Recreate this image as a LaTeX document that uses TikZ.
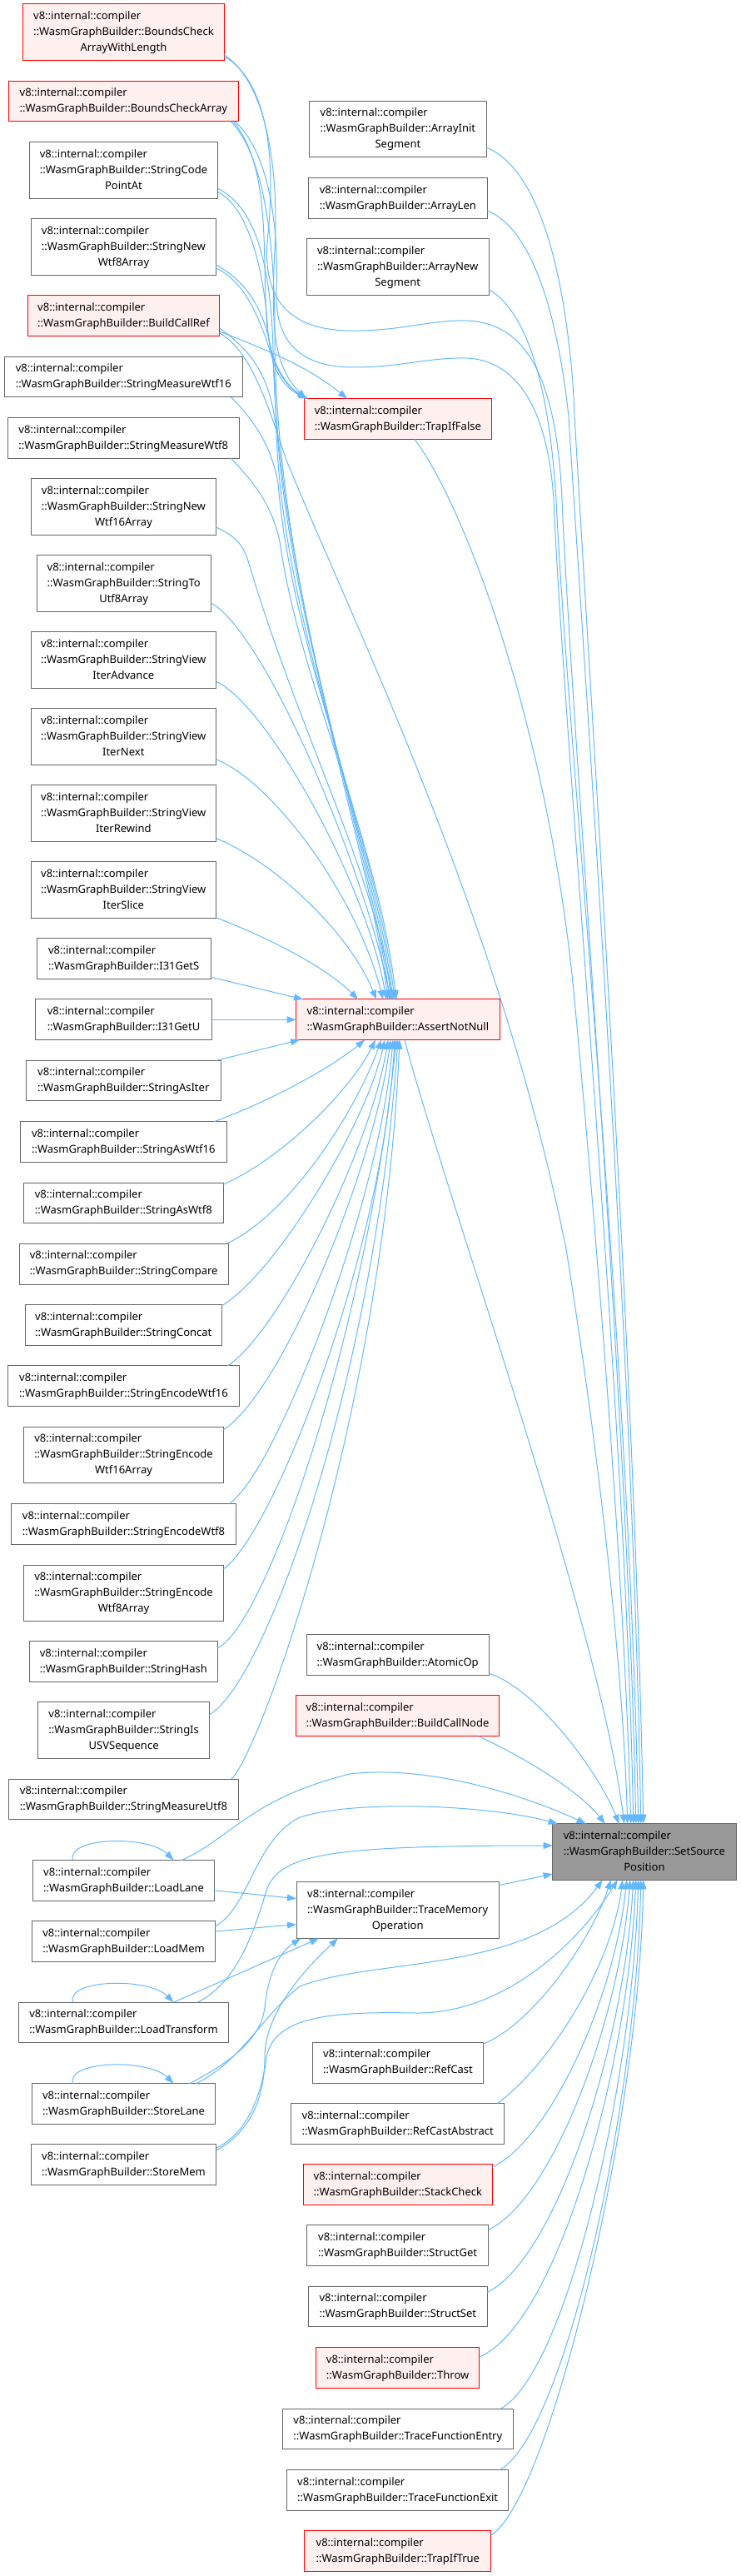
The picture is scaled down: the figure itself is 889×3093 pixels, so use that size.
\documentclass[tikz,border=0pt]{standalone}
\usepackage{fontspec}
\setmainfont{Noto Sans}
\usetikzlibrary{arrows.meta,calc}
\definecolor{edgec}{HTML}{63B8FF}
\definecolor{nodeb}{HTML}{666666}
\definecolor{redb}{HTML}{FF0000}
\definecolor{redf}{HTML}{FFF0F0}
\definecolor{rootf}{HTML}{999999}
\newcommand{\twol}[1]{\begin{tabular}{@{}l@{}}v8::internal::compiler\\#1\end{tabular}}
\newcommand{\thrl}[2]{\begin{tabular}{@{}l@{}}v8::internal::compiler\\#1\\\multicolumn{1}{@{}c@{}}{#2}\end{tabular}}
\tikzset{
  box/.style={draw=nodeb, fill=white, line width=1pt, inner sep=0pt, outer sep=0pt,
    anchor=north west, font=\fontsize{13}{19}\selectfont, minimum height=48.7pt},
  tall/.style={minimum height=67.6pt},
  rbox/.style={box, draw=redb, fill=redf},
  rootbox/.style={box, fill=rootf},
  cg/.style={draw=edgec, line width=1pt, -{Triangle[length=11pt,width=8pt]}}
}
\begin{document}
\begin{tikzpicture}[x=1pt,y=-1pt]
\useasboundingbox (0,0) rectangle (889,3093);
% ---------- left column ----------
\node[rbox,tall,minimum width=241.9pt] (bcawl) at (27.5,5) {\thrl{::WasmGraphBuilder::BoundsCheck}{ArrayWithLength}};
\node[rbox,minimum width=276pt] (bca) at (10.3,97.3) {\twol{::WasmGraphBuilder::BoundsCheckArray}};
\node[box,tall,minimum width=226.6pt] (scpa) at (35.2,170.7) {\thrl{::WasmGraphBuilder::StringCode}{PointAt}};
\node[box,tall,minimum width=221.1pt] (snw8a) at (37.9,262.9) {\thrl{::WasmGraphBuilder::StringNew}{Wtf8Array}};
\node[rbox,minimum width=230.4pt] (bcref) at (33.3,354.6) {\twol{::WasmGraphBuilder::BuildCallRef}};
\node[box,minimum width=286.6pt] (smw16) at (5,428.2) {\twol{::WasmGraphBuilder::StringMeasureWtf16}};
\node[box,minimum width=278.2pt] (smw8) at (9.2,501.4) {\twol{::WasmGraphBuilder::StringMeasureWtf8}};
\node[box,tall,minimum width=221.1pt] (snw16a) at (37.9,574.9) {\thrl{::WasmGraphBuilder::StringNew}{Wtf16Array}};
\node[box,tall,minimum width=208.6pt] (stu8a) at (44.4,666.8) {\thrl{::WasmGraphBuilder::StringTo}{Utf8Array}};
\node[box,tall,minimum width=222.4pt] (sviadv) at (37.1,758.6) {\thrl{::WasmGraphBuilder::StringView}{IterAdvance}};
\node[box,tall,minimum width=222.4pt] (svinext) at (37.1,850.9) {\thrl{::WasmGraphBuilder::StringView}{IterNext}};
\node[box,tall,minimum width=222.4pt] (svirew) at (37.1,942.7) {\thrl{::WasmGraphBuilder::StringView}{IterRewind}};
\node[box,tall,minimum width=222.4pt] (svislice) at (37.1,1034.9) {\thrl{::WasmGraphBuilder::StringView}{IterSlice}};
\node[box,minimum width=208.6pt] (i31s) at (44.4,1126.8) {\twol{::WasmGraphBuilder::I31GetS}};
\node[box,minimum width=212pt] (i31u) at (42.5,1199.9) {\twol{::WasmGraphBuilder::I31GetU}};
\node[box,minimum width=233.8pt] (sasiter) at (31.4,1273.2) {\twol{::WasmGraphBuilder::StringAsIter}};
\node[box,minimum width=247.6pt] (saw16) at (24.5,1346.7) {\twol{::WasmGraphBuilder::StringAsWtf16}};
\node[box,minimum width=240pt] (saw8) at (28.3,1420.2) {\twol{::WasmGraphBuilder::StringAsWtf8}};
\node[box,minimum width=250.7pt] (scmp) at (23.3,1493.3) {\twol{::WasmGraphBuilder::StringCompare}};
\node[box,minimum width=236.2pt] (sconcat) at (30.2,1566.8) {\twol{::WasmGraphBuilder::StringConcat}};
\node[box,minimum width=277.8pt] (sew16) at (9.6,1639.9) {\twol{::WasmGraphBuilder::StringEncodeWtf16}};
\node[box,tall,minimum width=239.6pt] (sew16a) at (28.7,1713) {\thrl{::WasmGraphBuilder::StringEncode}{Wtf16Array}};
\node[box,minimum width=269.4pt] (sew8) at (13.8,1805.5) {\twol{::WasmGraphBuilder::StringEncodeWtf8}};
\node[box,tall,minimum width=239.6pt] (sew8a) at (28.7,1879) {\thrl{::WasmGraphBuilder::StringEncode}{Wtf8Array}};
\node[box,minimum width=226.2pt] (shash) at (35.2,1970.8) {\twol{::WasmGraphBuilder::StringHash}};
\node[box,tall,minimum width=205.5pt] (susv) at (45.9,2043.9) {\thrl{::WasmGraphBuilder::StringIs}{USVSequence}};
\node[box,minimum width=276.3pt] (smu8) at (10.3,2136.2) {\twol{::WasmGraphBuilder::StringMeasureUtf8}};
\node[box,minimum width=217.4pt] (loadlane) at (39.8,2233.4) {\twol{::WasmGraphBuilder::LoadLane}};
\node[box,minimum width=219.6pt] (loadmem) at (38.7,2306.7) {\twol{::WasmGraphBuilder::LoadMem}};
\node[box,minimum width=251.8pt] (loadtr) at (22.6,2404.1) {\twol{::WasmGraphBuilder::LoadTransform}};
\node[box,minimum width=220.4pt] (storelane) at (38.3,2501.7) {\twol{::WasmGraphBuilder::StoreLane}};
\node[box,minimum width=222.8pt] (storemem) at (37.1,2574.6) {\twol{::WasmGraphBuilder::StoreMem}};
% ---------- middle column ----------
\node[box,tall,minimum width=213pt] (ais) at (371.4,121.3) {\thrl{::WasmGraphBuilder::ArrayInit}{Segment}};
\node[box,minimum width=214.7pt] (alen) at (370.5,213.5) {\twol{::WasmGraphBuilder::ArrayLen}};
\node[box,tall,minimum width=218.9pt] (ans) at (368.2,286.7) {\thrl{::WasmGraphBuilder::ArrayNew}{Segment}};
\node[rbox,minimum width=225.4pt] (tif) at (365.2,478.7) {\twol{::WasmGraphBuilder::TrapIfFalse}};
\node[rbox,minimum width=244.6pt] (ann) at (355.6,1199.9) {\twol{::WasmGraphBuilder::AssertNotNull}};
\node[box,minimum width=218.9pt] (atomic) at (368.2,1962.9) {\twol{::WasmGraphBuilder::AtomicOp}};
\node[rbox,minimum width=243.8pt] (bcnode) at (355.6,2035.9) {\twol{::WasmGraphBuilder::BuildCallNode}};
\node[box,tall,minimum width=243.4pt] (tmo) at (356,2259.8) {\thrl{::WasmGraphBuilder::TraceMemory}{Operation}};
\node[box,minimum width=204.4pt] (refcast) at (375.8,2452.3) {\twol{::WasmGraphBuilder::RefCast}};
\node[box,minimum width=255.6pt] (refcastabs) at (349.9,2525.5) {\twol{::WasmGraphBuilder::RefCastAbstract}};
\node[rbox,minimum width=226.9pt] (stackcheck) at (364.4,2598.7) {\twol{::WasmGraphBuilder::StackCheck}};
\node[box,minimum width=218.1pt] (structget) at (368.6,2671.9) {\twol{::WasmGraphBuilder::StructGet}};
\node[box,minimum width=214.7pt] (structset) at (370.5,2745.2) {\twol{::WasmGraphBuilder::StructSet}};
\node[rbox,minimum width=195.9pt] (throw) at (379.7,2818.7) {\twol{::WasmGraphBuilder::Throw}};
\node[box,minimum width=276.7pt] (tfentry) at (339.5,2892.2) {\twol{::WasmGraphBuilder::TraceFunctionEntry}};
\node[box,minimum width=265.6pt] (tfexit) at (344.9,2965.4) {\twol{::WasmGraphBuilder::TraceFunctionExit}};
\node[rbox,minimum width=223.9pt] (trapiftrue) at (365.9,3038.6) {\twol{::WasmGraphBuilder::TrapIfTrue}};
% ---------- root ----------
\node[rootbox,tall,minimum width=220.4pt] (ssp) at (663.7,2189.7) {\thrl{::WasmGraphBuilder::SetSource}{Position}};

% ---------- edges into TrapIfFalse ----------
\draw[cg] ($(bcawl.east)+(0,27)$) .. controls (320,100) and (335,200) .. (330,300) .. controls (325,400) and (330,440) .. ($(tif.north west)+(2,0)$);
\draw[cg] ($(bca.south east)+(-6,0)$) .. controls (325,200) and (315,300) .. (320,380) .. controls (322,430) and (340,460) .. ($(tif.north west)+(3,0)$);
\draw[cg] ($(scpa.east)+(0,26)$) .. controls (300,250) and (318,330) .. (322,400) .. controls (325,440) and (345,465) .. ($(tif.north west)+(4,0)$);
\draw[cg] ($(snw8a.east)+(0,25)$) .. controls (300,340) and (318,400) .. (330,440) .. controls (338,460) and (350,470) .. ($(tif.north west)+(5,0)$);
\draw[cg] ($(bcref.east)+(0,19)$) .. controls (320,420) and (370,440) .. ($(tif.north west)+(51.8,0)$);

% ---------- edges into AssertNotNull from above ----------
\draw[cg] ($(bca.south east)+(-8.8,0)$) .. controls (315,185) and (330,280) .. (330,400) .. controls (330,700) and (440,1000) .. ($(ann.north west)+(110.4,0)$);
\draw[cg] ($(scpa.east)+(0,22)$) .. controls (300,245) and (325,300) .. (328,420) .. controls (332,700) and (442,1000) .. ($(ann.north west)+(112.4,0)$);
\draw[cg] ($(snw8a.east)+(0,21)$) .. controls (300,340) and (326,380) .. (330,460) .. controls (335,720) and (445,1000) .. ($(ann.north west)+(114.4,0)$);
\draw[cg] ($(bcref.east)+(0,15)$) .. controls (300,420) and (326,450) .. (332,520) .. controls (340,750) and (448,1000) .. ($(ann.north west)+(116.4,0)$);
\draw[cg] ($(smw16.south east)+(-14,0)$) .. controls (300,500) and (325,530) .. (334,580) .. controls (350,780) and (450,1000) .. ($(ann.north west)+(118.4,0)$);
\draw[cg] ($(smw8.south east)+(-10,0)$) .. controls (300,575) and (325,600) .. (336,650) .. controls (360,820) and (452,1000) .. ($(ann.north west)+(120.4,0)$);
\draw[cg] ($(snw16a.east)+(0,24)$) .. controls (285,645) and (293,655) .. (300,680) .. controls (360,880) and (450,1050) .. ($(ann.north west)+(115.4,0)$);
\draw[cg] ($(stu8a.east)+(0,23)$) .. controls (320,760) and (440,1050) .. ($(ann.north west)+(113.4,0)$);
\draw[cg] ($(sviadv.east)+(0,26)$) .. controls (320,845) and (440,1060) .. ($(ann.north west)+(108.4,0)$);
\draw[cg] ($(svinext.east)+(0,27)$) .. controls (330,940) and (430,1080) .. ($(ann.north west)+(104.4,0)$);
\draw[cg] ($(svirew.east)+(0,30)$) .. controls (330,1035) and (420,1120) .. ($(ann.north west)+(96.4,0)$);
\draw[cg] ($(svislice.east)+(0,33)$) .. controls (320,1125) and (390,1160) .. ($(ann.north west)+(74.4,0)$);
\draw[cg] ($(i31s.east)+(0,22)$) -- ($(ann.north west)+(8.4,0)$);
\draw[cg] (i31u.east) -- (ann.west);

% ---------- edges into AssertNotNull from below ----------
\draw[cg] ($(sasiter.north east)+(-5,0)$) -- ($(ann.south west)+(4.4,0)$);
\draw[cg] ($(saw16.north east)+(-15,0)$) .. controls (330,1320) and (400,1280) .. ($(ann.south west)+(82.4,0)$);
\draw[cg] ($(saw8.north east)+(0,2)$) .. controls (340,1390) and (420,1310) .. ($(ann.south west)+(95.4,0)$);
\draw[cg] ($(scmp.north east)+(-2,0)$) .. controls (345,1460) and (425,1340) .. ($(ann.south west)+(102.4,0)$);
\draw[cg] ($(sconcat.north east)+(0,1)$) .. controls (330,1530) and (440,1350) .. ($(ann.south west)+(106.4,0)$);
\draw[cg] ($(sew16.north east)+(-14,0)$) .. controls (335,1600) and (445,1380) .. ($(ann.south west)+(110.4,0)$);
\draw[cg] ($(sew16a.north east)+(0,4)$) .. controls (340,1670) and (450,1400) .. ($(ann.south west)+(113.4,0)$);
\draw[cg] ($(sew8.north east)+(-8,0)$) .. controls (330,1770) and (455,1450) .. ($(ann.south west)+(116.4,0)$);
\draw[cg] ($(sew8a.north east)+(0,5)$) .. controls (330,1840) and (460,1500) .. ($(ann.south west)+(118.4,0)$);
\draw[cg] ($(shash.north east)+(0,8)$) .. controls (320,1950) and (440,1600) .. ($(ann.south west)+(120.4,0)$);
\draw[cg] ($(susv.north east)+(0,15)$) .. controls (320,2020) and (450,1650) .. ($(ann.south west)+(122.4,0)$);
\draw[cg] ($(smu8.north east)+(-9,0)$) .. controls (310,2110) and (460,1700) .. ($(ann.south west)+(124.4,0)$);

% ---------- edges into SetSourcePosition (top) ----------
\draw[cg] ($(bcawl.east)+(0,29)$) .. controls (325,100) and (330,200) .. (322,280) .. controls (315,340) and (330,396) .. (420,397) .. controls (480,398) and (515,384) .. (560,385) .. controls (625,387) and (668,440) .. (675,600) .. controls (688,900) and (755,1700) .. ($(ssp.north west)+(100,0)$);
\draw[cg] ($(bca.south east)+(-4,0)$) .. controls (320,180) and (335,260) .. (332,350) .. controls (330,410) and (360,441) .. (425,441) .. controls (480,441) and (515,429) .. (560,430) .. controls (620,432) and (658,490) .. (665,600) .. controls (678,900) and (752,1700) .. ($(ssp.north west)+(97,0)$);
\draw[cg] ($(ais.east)+(0,22)$) .. controls (640,200) and (675,300) .. (688,460) .. controls (700,700) and (762,1600) .. ($(ssp.north west)+(109,0)$);
\draw[cg] ($(alen.east)+(0,15)$) .. controls (640,275) and (670,380) .. (683,500) .. controls (696,720) and (760,1600) .. ($(ssp.north west)+(106,0)$);
\draw[cg] ($(ans.east)+(0,27)$) .. controls (635,375) and (660,470) .. (668,600) .. controls (682,900) and (755,1600) .. ($(ssp.north west)+(103,0)$);
\draw[cg] ($(tif.south)+(20,0)$) .. controls (560,610) and (660,880) .. (690,1200) .. controls (718,1500) and (750,1900) .. ($(ssp.north west)+(94,0)$);
\draw[cg] ($(bcref.east)+(0,21)$) .. controls (300,420) and (320,480) .. (343,550) .. controls (420,740) and (600,1100) .. (680,1500) .. controls (720,1750) and (748,2000) .. ($(ssp.north west)+(90,0)$);
\draw[cg] ($(ann.south)+(8,0)$) .. controls (540,1450) and (720,1950) .. ($(ssp.north west)+(86,0)$);
\draw[cg] ($(atomic.east)+(0,22)$) .. controls (640,2025) and (715,2120) .. ($(ssp.north west)+(80,0)$);
\draw[cg] ($(bcnode.south east)+(-25,0)$) .. controls (630,2110) and (695,2150) .. ($(ssp.north west)+(63,0)$);
\draw[cg] ($(loadlane.north)+(70,0)$) .. controls (280,2205) and (300,2160) .. (420,2130) .. controls (520,2118) and (640,2160) .. ($(ssp.north west)+(40,0)$);
\draw[cg] ($(loadmem.east)+(0,-18)$) .. controls (300,2290) and (305,2210) .. (360,2182) .. controls (430,2160) and (590,2168) .. ($(ssp.north west)+(6,0)$);
% ---------- edges into SetSourcePosition (left) ----------
\draw[cg] ($(loadtr.north)+(89,0)$) .. controls (285,2380) and (305,2320) .. (320,2270) .. controls (335,2225) and (400,2216) .. ($(ssp.north west)+(0,26.3)$);
\draw[cg] ($(tmo.east)+(0,-30)$) -- ($(ssp.north west)+(0,60.3)$);
% ---------- edges into SetSourcePosition (bottom) ----------
\draw[cg] ($(storelane.north)+(87,0)$) .. controls (290,2475) and (315,2420) .. (360,2385) .. controls (450,2350) and (640,2370) .. ($(ssp.south west)+(60,0)$);
\draw[cg] ($(refcast.north east)+(0,2)$) .. controls (640,2430) and (710,2330) .. ($(ssp.south west)+(70,0)$);
\draw[cg] ($(storemem.east)+(0,-20)$) .. controls (300,2560) and (315,2510) .. (320,2470) .. controls (330,2420) and (400,2415) .. (500,2417) .. controls (600,2418) and (690,2340) .. ($(ssp.south west)+(78,0)$);
\draw[cg] ($(refcastabs.north east)+(-8,0)$) .. controls (660,2480) and (735,2360) .. ($(ssp.south west)+(84,0)$);
\draw[cg] ($(stackcheck.east)+(0,-21)$) .. controls (660,2570) and (738,2400) .. ($(ssp.south west)+(89,0)$);
\draw[cg] ($(structget.east)+(0,-19)$) .. controls (665,2640) and (745,2420) .. ($(ssp.south west)+(93,0)$);
\draw[cg] ($(structset.east)+(0,-17)$) .. controls (670,2710) and (750,2450) .. ($(ssp.south west)+(97,0)$);
\draw[cg] ($(throw.east)+(0,-13)$) .. controls (670,2790) and (755,2480) .. ($(ssp.south west)+(100,0)$);
\draw[cg] ($(tfentry.north east)+(-15,0)$) .. controls (680,2850) and (760,2500) .. ($(ssp.south west)+(103,0)$);
\draw[cg] ($(tfexit.north east)+(-10,0)$) .. controls (680,2920) and (765,2520) .. ($(ssp.south west)+(106,0)$);
\draw[cg] ($(trapiftrue.east)+(0,-19)$) .. controls (660,3000) and (768,2550) .. ($(ssp.south west)+(109,0)$);

% ---------- edges into TraceMemoryOperation ----------
\draw[cg] ($(loadlane.east)+(0,12)$) -- ($(tmo.west)+(0,-14)$);
\draw[cg] ($(loadmem.east)+(0,-12)$) -- ($(tmo.west)+(0,17)$);
\draw[cg] ($(loadtr.north)+(60,0)$) -- ($(tmo.south west)+(27,0)$);
\draw[cg] ($(storelane.north)+(79,0)$) .. controls (290,2470) and (315,2440) .. (318,2410) .. controls (322,2370) and (335,2345) .. ($(tmo.south west)+(5,0)$);
\draw[cg] ($(storemem.east)+(0,-17)$) .. controls (300,2560) and (318,2520) .. (318,2470) .. controls (318,2420) and (360,2370) .. ($(tmo.south west)+(50,0)$);

% ---------- self loops ----------
\draw[cg] ($(loadlane.north)+(-61,0)$) .. controls +(-8,-28) and +(-30,-30) .. ($(loadlane.north)+(60,0)$);
\draw[cg] ($(loadtr.north)+(-61,0)$) .. controls +(-8,-28) and +(-30,-30) .. ($(loadtr.north)+(60,0)$);
\draw[cg] ($(storelane.north)+(-61,0)$) .. controls +(-8,-28) and +(-30,-30) .. ($(storelane.north)+(60,0)$);
\end{tikzpicture}
\end{document}
